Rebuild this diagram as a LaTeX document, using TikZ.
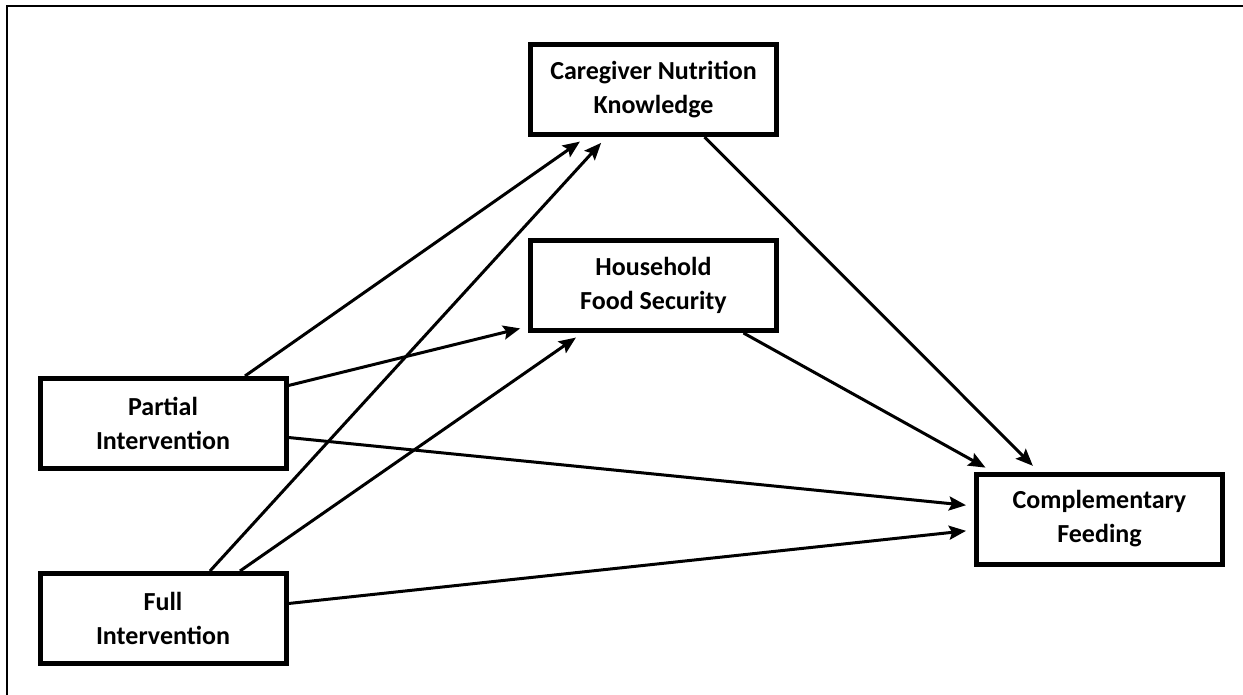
\documentclass[tikz,border=0pt]{standalone}
\usepackage{fontspec}
\setmainfont{Carlito}
\usetikzlibrary{arrows.meta, positioning, calc}

\begin{document}
\begin{tikzpicture}[x=0.5pt, y=-0.5pt, >={Stealth[length=8.5pt, width=7pt, inset=1.5pt]},
  box/.style={draw, line width=2.5pt, minimum width=123pt, minimum height=45pt,
    inner sep=0pt, align=center, font=\bfseries\fontsize{13}{17}\selectfont},
  link/.style={->, line width=1.5pt, shorten >=4pt}]
  \useasboundingbox (0,0) rectangle (1243,695);
  \draw[line width=1pt] (7,695) -- (7,6) -- (1243,6);
  \node[box] (care) at (653.5,89.5) {Caregiver Nutrition\\Knowledge};
  \node[box, below=50.5pt of care] (house) {Household\\Food Security};
  \node[box] (partial) at (163,423.5) {Partial\\Intervention};
  \node[box, below=50pt of partial] (full) {Full\\Intervention};
  \node[box] (comp) at (1099.5,519) {Complementary\\Feeding};
  % paths into the two mediators
  \draw[link] ($(partial.north)+(82,0)$) -- ($(care.south)+(-67,0)$);
  \draw[link] ($(full.north)+(47,0)$) -- ($(care.south)+(-47,0)$);
  \draw[link] ($(partial.east)+(0,-38)$) -- ($(house.west)+(0,41)$);
  \draw[link] ($(full.north)+(77,0)$) -- ($(house.south)+(-71,0)$);
  % direct paths
  \draw[link] ($(partial.east)+(0,14)$) -- ($(comp.west)+(0,-13)$);
  \draw[link] ($(full.east)+(0,-15)$) -- ($(comp.west)+(0,11)$);
  % mediators to outcome
  \draw[link] ($(house.south)+(90,0)$) -- ($(comp.north)+(-107,0)$);
  \draw[link] ($(care.south)+(51,0)$) -- ($(comp.north)+(-61,0)$);
\end{tikzpicture}
\end{document}
